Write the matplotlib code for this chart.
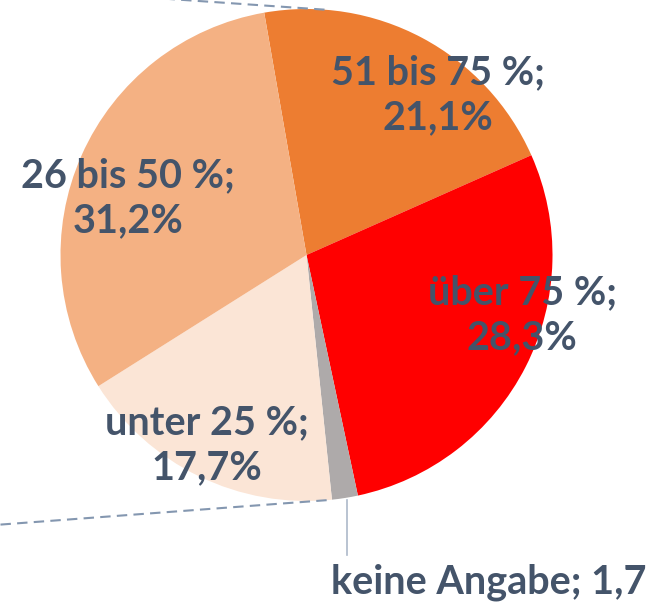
import matplotlib.pyplot as plt
import numpy as np

# slice values clockwise, starting at the top
labels = ['51 bis 75 %', 'über 75 %', 'keine Angabe', 'unter 25 %', '26 bis 50 %']
values = [21.1, 28.3, 1.7, 17.7, 31.2]
value_text = ['21,1%', '28,3%', '1,7', '17,7%', '31,2%']
colors = ['#ED7D31', '#FF0000', '#AEAAAA', '#FBE5D6', '#F4B183']

W, H = 663, 603
fig = plt.figure(figsize=(W / 100, H / 100), dpi=100)
ax = fig.add_axes([0, 0, 1, 1])

cx, cy, r = 306.5, H - 255, 246
ax.pie(values, colors=colors, startangle=99.9, counterclock=False,
       center=(cx, cy), radius=r, frame=True,
       wedgeprops=dict(linewidth=0))
ax.set_xlim(0, W)
ax.set_ylim(0, H)
ax.set_aspect('equal')
ax.axis('off')

# dashed connector lines (bar-of-pie style, bar off canvas)
line_col = '#8497B0'
for ang, end in [(85.8, (155, H + 2)), (-85.3, (-5, H - 525))]:
    a = np.deg2rad(ang)
    px, py = cx + r * np.cos(a), cy + r * np.sin(a)
    ax.plot([px, end[0]], [py, end[1]], ls=(0, (5, 3)), color=line_col, lw=1.5,
            clip_on=False)

txt_col = '#44546A'
font = dict(family='Lato', weight='bold', fontsize=28.5, color=txt_col,
            ha='center', va='center', linespacing=1.25)

# label positions (pixel centers)
label_pos = [(438, 95), (522, 315), None, (207, 445), (128, 198)]
for lab, vt, pos in zip(labels, value_text, label_pos):
    if pos is None:
        continue
    ax.text(pos[0], H - pos[1], f'{lab};\n{vt}', **font)

# keine Angabe: outside label with leader line
ax.plot([347, 347], [H - 500, H - 555], color='#ADB9CA', lw=1.2)
ax.text(489, H - 582, f'{labels[2]}; {value_text[2]}', **font)

fig.savefig('out.png', dpi=100)
